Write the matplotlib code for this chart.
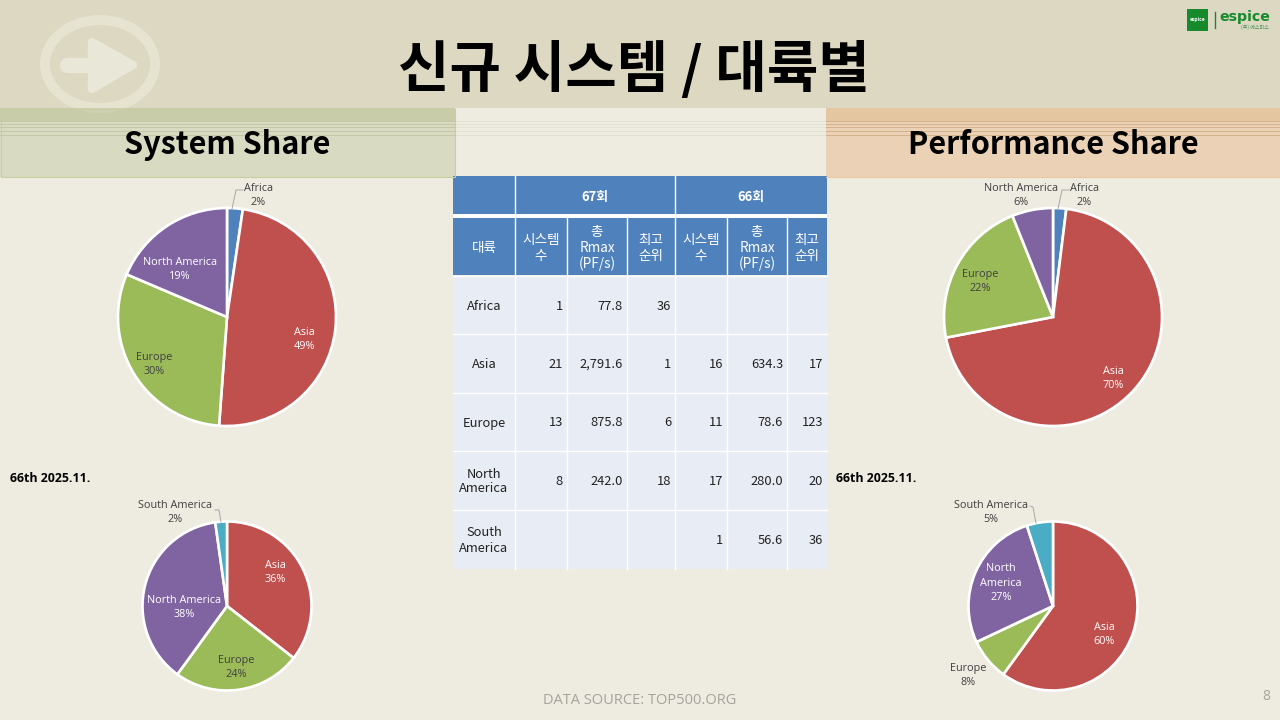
import matplotlib
matplotlib.use("Agg")
import matplotlib.pyplot as plt
from matplotlib.patches import Rectangle, Ellipse, Polygon
from matplotlib.lines import Line2D

plt.rcParams['font.family'] = ['Noto Sans CJK KR', 'DejaVu Sans']

C_AFRICA, C_ASIA, C_EUROPE, C_NA, C_SA = '#4F81BD', '#C0504D', '#9BBB59', '#8064A2', '#4BACC6'

sys67_labels = ['Africa', 'Asia', 'Europe', 'North America']
sys67_values = [1, 21, 13, 8]
sys67_colors = [C_AFRICA, C_ASIA, C_EUROPE, C_NA]
perf67_labels = ['Africa', 'Asia', 'Europe', 'North America']
perf67_values = [77.8, 2791.6, 875.8, 242.0]
perf67_colors = [C_AFRICA, C_ASIA, C_EUROPE, C_NA]
sys66_labels = ['Asia', 'Europe', 'North America', 'South America']
sys66_values = [16, 11, 17, 1]
sys66_colors = [C_ASIA, C_EUROPE, C_NA, C_SA]
perf66_labels = ['Asia', 'Europe', 'North America', 'South America']
perf66_values = [60, 8, 27, 5]
perf66_colors = [C_ASIA, C_EUROPE, C_NA, C_SA]

table_top = ['', '67회', '66회']
table_head = ['대륙', '시스템\n수', '총\nRmax\n(PF/s)', '최고\n순위', '시스템\n수', '총\nRmax\n(PF/s)', '최고\n순위']
table_rows = [
    ['Africa', '1', '77.8', '36', '', '', ''],
    ['Asia', '21', '2,791.6', '1', '16', '634.3', '17'],
    ['Europe', '13', '875.8', '6', '11', '78.6', '123'],
    ['North\nAmerica', '8', '242.0', '18', '17', '280.0', '20'],
    ['South\nAmerica', '', '', '', '1', '56.6', '36'],
]

fig = plt.figure(figsize=(12.8, 7.2), dpi=100, facecolor='#EEECE1')
ax = fig.add_axes([0, 0, 1, 1])
ax.set_xlim(0, 1280)
ax.set_ylim(720, 0)
ax.axis('off')


def rect(x0, y0, x1, y1, color, z=1, **kw):
    ax.add_patch(Rectangle((x0, y0), x1 - x0, y1 - y0, facecolor=color, edgecolor='none', zorder=z, **kw))


def pct(vals, i):
    return round(100 * vals[i] / sum(vals))


# Background band and watermark
rect(0, 0, 1280, 108, '#DDD8C2')
ax.add_patch(Ellipse((100, 64), 110, 88, facecolor='none', edgecolor='#E6E3D1', linewidth=7.2, zorder=1.2))
ax.add_line(Line2D([67, 105], [65, 65], color='#E9E7D7', lw=11, solid_capstyle='round', zorder=1.3))
ax.add_patch(Polygon([[92, 42], [133, 65], [92, 89]], closed=True, facecolor='#E9E7D7',
                     edgecolor='#E9E7D7', lw=6, joinstyle='round', zorder=1.3))

# Header boxes
rect(0, 108, 455, 177, '#D8DBC1', z=2)
rect(0, 108, 455, 121, '#C9CCA9', z=2)
rect(826, 108, 1280, 177, '#EBD2B6', z=2)
rect(826, 108, 1280, 121, '#E4C6A1', z=2)
ring_clip = Rectangle((0, 108), 455, 13, transform=ax.transData)
ring = Ellipse((100, 64), 110, 88, facecolor='none', edgecolor='#CFD2B2', linewidth=7.2, zorder=2.05)
ax.add_patch(ring)
ring.set_clip_path(ring_clip)
ax.add_patch(Rectangle((0.5, 108.5), 454, 68, fill=False, edgecolor='#C6CFA0', lw=0.8, zorder=2.1))
ax.add_line(Line2D([826, 1280], [176.5, 176.5], color='#EBC79F', lw=0.8, zorder=2.1))
for y in [120.5, 123.5, 126.5, 130.5, 134.5]:
    ax.add_line(Line2D([0, 455], [y, y], color='#C4C8A6', lw=0.7, zorder=2.2))
    ax.add_line(Line2D([826, 1280], [y, y], color='#D4B18C', lw=0.7, zorder=2.2))
    ax.add_line(Line2D([455, 826], [y, y], color='#E3E1D3', lw=0.7, zorder=0.9))

ax.text(634, 70, '신규 시스템 / 대륙별', ha='center', va='center', fontsize=40.3, fontweight='bold', color='black', zorder=5)
ax.text(227, 145, 'System Share', ha='center', va='center', fontsize=22, fontweight='bold', color='black', zorder=5)
ax.text(1053, 145, 'Performance Share', ha='center', va='center', fontsize=22, fontweight='bold', color='black', zorder=5)

# Logo
rect(1187, 9, 1208, 31, '#178A2E', z=3)
ax.text(1197.5, 19, 'espice', ha='center', va='center', fontsize=3.6, fontweight='bold', color='white', zorder=4)
ax.add_line(Line2D([1214.5, 1214.5], [12, 28], color='#178A2E', lw=1, zorder=3))
ax.text(1219, 17, 'espice', ha='left', va='center', fontsize=10.2, fontweight='bold', color='#178A2E',
        family=['DejaVu Sans'], zorder=4)
ax.text(1269, 27, '(주) 에스피스', ha='right', va='center', fontsize=3.6, color='#3E8F50', zorder=4)

# Table
col_x = [453, 515, 567, 627, 675, 727, 787, 827]
row_y = [276, 334, 393, 451, 510, 569]
HEAD = '#4F81BD'
rect(col_x[0], 176, col_x[-1], 214, HEAD, z=2)
rect(col_x[0], 218, col_x[-1], 275, HEAD, z=2)
rect(col_x[0], 276, col_x[-1], 569, '#E8ECF4', z=2)
for x in col_x[1:-1]:
    ax.add_line(Line2D([x, x], [218, 569], color='white', lw=1, zorder=3))
for x in [col_x[1], col_x[4]]:
    ax.add_line(Line2D([x, x], [176, 214], color='white', lw=1, zorder=3))
for y in row_y[:-1]:
    ax.add_line(Line2D([453, 827], [y, y], color='white', lw=1, zorder=3))
rect(453, 214, 827, 218, 'white', z=3)

TFS = 9.3
ax.text((col_x[1] + col_x[4]) / 2, 197, table_top[1], ha='center', va='center', color='white', fontsize=TFS, fontweight='bold', zorder=5)
ax.text((col_x[4] + col_x[7]) / 2, 197, table_top[2], ha='center', va='center', color='white', fontsize=TFS, fontweight='bold', zorder=5)
for i, h in enumerate(table_head):
    ax.text((col_x[i] + col_x[i + 1]) / 2, 248, h, ha='center', va='center', color='white', fontsize=9.8,
            linespacing=1.17, zorder=5)
for r, row in enumerate(table_rows):
    yc = (row_y[r] + row_y[r + 1]) / 2
    for c, val in enumerate(row):
        if c == 0:
            ax.text((col_x[0] + col_x[1]) / 2, yc + 1, val, ha='center', va='center', color='#222222',
                    fontsize=TFS, linespacing=1.2, zorder=5)
        else:
            ax.text(col_x[c + 1] - 4, yc + 1, val, ha='right', va='center', color='#222222', fontsize=TFS, zorder=5)


# Pies
def pie(vals, colors, cx, cy, r):
    size = 2 * r + 10
    a = fig.add_axes([(cx - size / 2) / 1280, 1 - (cy + size / 2) / 720, size / 1280, size / 720])
    a.pie(vals, colors=colors, startangle=90, counterclock=False, radius=1, frame=True,
          wedgeprops=dict(edgecolor='white', linewidth=1.9))
    lim = size / (2 * r)
    a.set_xlim(-lim, lim)
    a.set_ylim(-lim, lim)
    a.axis('off')
    a.patch.set_alpha(0)


pie(sys67_values, sys67_colors, 227, 317, 109)
pie(perf67_values, perf67_colors, 1053, 317, 109)
pie(sys66_values, sys66_colors, 227, 606, 84.5)
pie(perf66_values, perf66_colors, 1053, 606, 84.5)

LFS = 7.8
front = fig.add_axes([0, 0, 1, 1], facecolor='none')
front.set_xlim(0, 1280)
front.set_ylim(720, 0)
front.axis('off')


def lab(x, y, names, vals, i, color='#404040', name=None):
    front.text(x, y, f'{name or names[i]}\n{pct(vals, i)}%', ha='center', va='center', fontsize=LFS, color=color,
               linespacing=1.45, family=['Open Sans', 'DejaVu Sans'], zorder=6)


lab(258, 195.5, sys67_labels, sys67_values, 0)
lab(304, 339.5, sys67_labels, sys67_values, 1, 'white')
lab(154, 364.5, sys67_labels, sys67_values, 2)
lab(180, 269.5, sys67_labels, sys67_values, 3, 'white')

lab(1084, 195.5, perf67_labels, perf67_values, 0)
lab(1113, 378.5, perf67_labels, perf67_values, 1, 'white')
lab(980, 281.5, perf67_labels, perf67_values, 2)
lab(1021, 195.5, perf67_labels, perf67_values, 3)

lab(275, 572.5, sys66_labels, sys66_values, 0, 'white')
lab(236, 667.5, sys66_labels, sys66_values, 1)
lab(184, 607.5, sys66_labels, sys66_values, 2, 'white')
lab(175, 512.5, sys66_labels, sys66_values, 3)

lab(1104, 634.5, perf66_labels, perf66_values, 0, 'white')
lab(968, 675.5, perf66_labels, perf66_values, 1)
lab(1001, 583, perf66_labels, perf66_values, 2, 'white', name='North\nAmerica')
lab(991, 512.5, perf66_labels, perf66_values, 3)

LEAD = '#A6A6A6'
for xs, ys in [([232, 236, 243], [209, 190, 190]),
               ([1058, 1062, 1069], [209, 190, 190]),
               ([221, 219, 215], [522, 510, 510]),
               ([1036, 1033, 1030], [523, 507, 506])]:
    front.add_line(Line2D(xs, ys, color=LEAD, lw=0.7, zorder=5))

SANS = ['Open Sans', 'DejaVu Sans']
front.text(10, 478, '66th 2025.11.', ha='left', va='center', fontsize=8.9, fontweight='bold', color='black', family=SANS)
front.text(836, 479, '66th 2025.11.', ha='left', va='center', fontsize=8.9, fontweight='bold', color='black', family=SANS)
front.text(640, 701, 'DATA SOURCE: TOP500.ORG', ha='center', va='center', fontsize=10.5, color='#A5A39B', family=SANS)
front.text(1266, 696, '8', ha='center', va='center', fontsize=10, color='#A5A39B', family=SANS)

fig.savefig('out.png', dpi=100, facecolor=fig.get_facecolor())
